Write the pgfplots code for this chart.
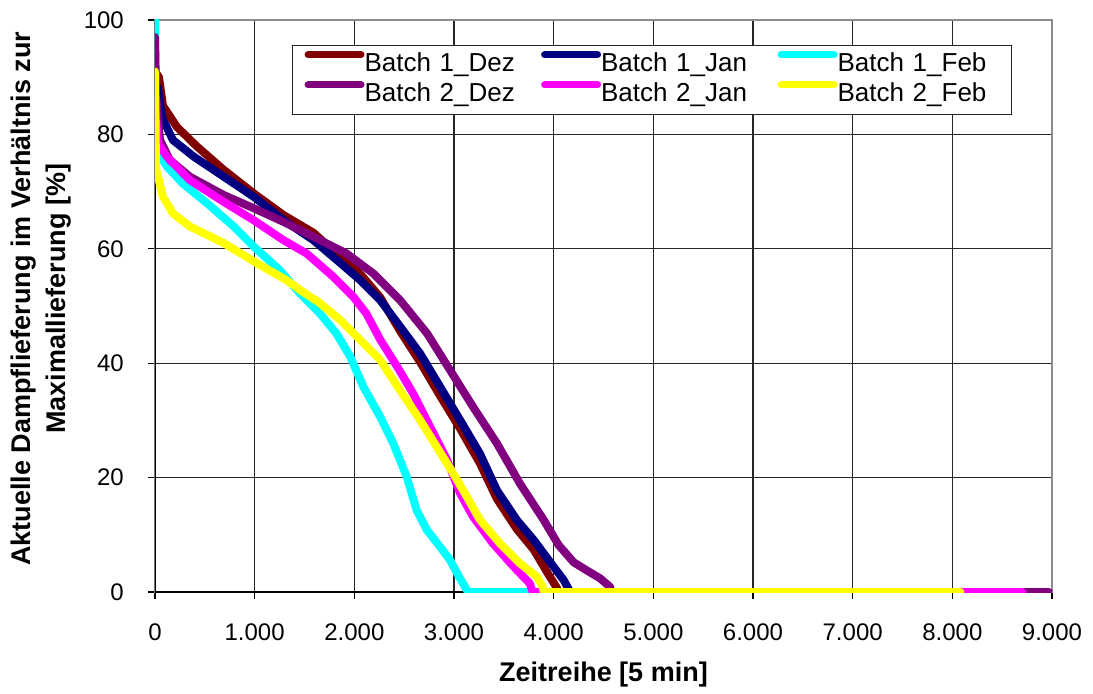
\documentclass[border=0pt]{standalone}
\usepackage{pgfplots}
\pgfplotsset{compat=1.18}
\usepackage{fontspec}
\setmainfont{Liberation Sans}
\definecolor{cBaDez}{HTML}{800000}
\definecolor{cBaJan}{HTML}{000080}
\definecolor{cBaFeb}{HTML}{00FFFF}
\definecolor{cBbDez}{HTML}{800080}
\definecolor{cBbJan}{HTML}{FF00FF}
\definecolor{cBbFeb}{HTML}{FFFF00}
\begin{document}
\begin{tikzpicture}
\begin{axis}[
  name=ax, scale only axis, width=897pt, height=572pt,
  xmin=0, xmax=9000, ymin=0, ymax=100,
  xtick={0,1000,2000,3000,4000,5000,6000,7000,8000,9000},
  xticklabels={0,1.000,2.000,3.000,4.000,5.000,6.000,7.000,8.000,9.000},
  ytick={0,20,40,60,80,100},
  grid=major, major grid style={black!85, line width=1.1pt},
  axis line style={gray!90, line width=1.6pt},
  tick align=outside, tick pos=left, major tick length=7pt,
  tick style={black, line width=1.1pt},
  /pgf/number format/assume math mode=true,
  xticklabel style={font=\fontsize{24}{28}\selectfont, anchor=north, inner sep=0pt, yshift=-25pt},
  yticklabel style={font=\fontsize{24}{28}\selectfont, anchor=east, inner sep=0pt, xshift=-24pt},
  xlabel={Zeitreihe [5 min]},
  xlabel style={at={(axis description cs:0.5,-0.1442)}, anchor=center, font=\fontsize{27}{32}\selectfont\bfseries},
  ylabel={Aktuelle Dampflieferung im Verhältnis zur\\Maximallieferung [\%]},
  ylabel style={at={(axis description cs:-0.1271,0.513)}, anchor=center, align=center, font=\fontsize{27}{35}\selectfont\bfseries},
  legend columns=3, legend cell align=left,
  legend image code/.code={\draw[#1, line width=7pt, line cap=round] (3.5pt,12pt) -- (56.5pt,12pt); \path[draw=none, fill=none] (0pt,0pt) -- (55pt,0pt);},
  legend style={at={(axis description cs:0.1527,0.9563)}, anchor=north west,
    draw=black!85, line width=1.2pt, fill=white, inner xsep=12pt, inner ysep=5.6pt,
    row sep=2.5pt, column sep=0pt, font=\fontsize{26}{30}\selectfont,
    nodes={inner sep=0pt, text width=162pt, align=left, text height=17pt, text depth=7.5pt},
    /tikz/every even column/.append style={column sep=14.5pt}},
  every axis plot/.append style={line width=8pt, line join=round, line cap=round},
]
\draw[black, line width=1.6pt] (rel axis cs:0,0) -- (rel axis cs:0,1);
\draw[black, line width=1.6pt] (rel axis cs:0,0) -- (rel axis cs:1,0);
% Batch 1_Dez
\addplot[cBaDez] coordinates {
(0,91) (40,90) (80,85) (220,81.3) (420,77.9) (690,73.8) (990,69.7) (1290,65.9) (1590,62.8)
(1860,58.6) (2060,55.6) (2260,51.5) (2460,45.6) (2660,40.2) (2860,34.3) (3060,28.6) (3260,22.5)
(3430,16.3) (3630,11.0) (3800,7.4) (3950,3.0) (4030,0.8) (4050,0) (4100,0)};
% Batch 1_Jan
\addplot[cBaJan] coordinates {
(0,89) (30,88) (70,83) (180,79) (390,76.1) (690,72.6) (990,69.1) (1290,65.0) (1590,61.5)
(1860,57.5) (2060,54.5) (2260,51) (2460,46.4) (2660,41.7) (2860,35.9) (3060,30.1) (3260,24.2)
(3430,17.8) (3630,12.6) (3800,9.1) (4000,4.4) (4100,2.1) (4150,0.5) (4170,0) (4200,0)};
% Batch 1_Feb
\addplot[cBaFeb] coordinates {
(0,100) (5,90) (15,77.3) (120,74.4) (280,71.4) (520,68) (790,63.9) (990,60.4) (1250,56.3)
(1455,52.2) (1655,48.7) (1820,45.2) (1960,41.1) (2090,35.9) (2260,30.6) (2390,26.0) (2525,20.2)
(2625,14.3) (2730,10.8) (2860,7.9) (2960,5.6) (3030,3.3) (3110,0.9) (3140,0) (3780,0)};
% Batch 2_Dez
\addplot[cBbDez] coordinates {
(0,97) (10,87) (50,79) (150,75.5) (350,72.6) (690,69.4) (990,67.1) (1290,64.7) (1590,62.1)
(1920,59.2) (2190,55.7) (2460,51.0) (2730,45.2) (2960,38.8) (3190,32.4) (3430,26.0) (3660,19.0)
(3900,12.6) (4050,8.2) (4200,5.2) (4330,3.8) (4465,2.4) (4565,0.9) (4580,0) (8970,0)};
% Batch 2_Jan
\addplot[cBbJan] coordinates {
(0,85) (30,78.4) (120,76.1) (350,72.0) (690,68.2) (990,65.0) (1290,61.5) (1520,59.2) (1790,55.1)
(1990,51.6) (2120,48.7) (2260,44.1) (2430,39.4) (2590,34.7) (2760,28.9) (2930,23.1) (3060,17.3)
(3190,13.2) (3390,8.5) (3600,4.4) (3760,1.5) (3790,0) (8700,0)};
% Batch 2_Feb
\addplot[cBbFeb] coordinates {
(0,91) (10,74) (80,69.1) (180,66.2) (350,63.9) (690,61.0) (1020,57.5) (1320,54.5) (1455,52.8)
(1655,50.5) (1856,47.6) (2057,44.1) (2257,40.6) (2458,35.3) (2659,30.1) (2826,25.4) (2993,20.7)
(3127,16.7) (3260,12.6) (3461,8.5) (3662,5.0) (3830,2.7) (3890,0.9) (3900,0) (8080,0)};
\legend{Batch 1\_Dez, Batch 1\_Jan, Batch 1\_Feb, Batch 2\_Dez, Batch 2\_Jan, Batch 2\_Feb}
\end{axis}
\pgfresetboundingbox
\path[use as bounding box] ([shift={(-155pt,-101pt)}]ax.south west) rectangle ([shift={(41pt,20pt)}]ax.north east);
\end{tikzpicture}
\end{document}
